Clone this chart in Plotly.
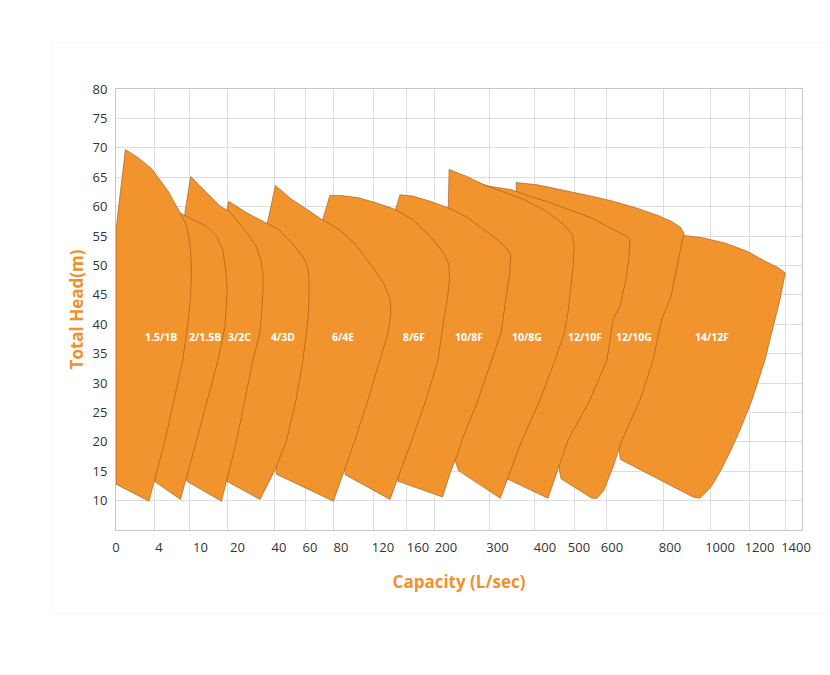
import numpy as np
import plotly.graph_objects as go

# ---------------- axis definitions ----------------
CAP_TICKS = [0, 4, 10, 20, 40, 60, 80, 120, 160, 200, 300, 400, 500, 600, 800, 1000, 1200, 1400]
HEAD_TICKS = [10, 15, 20, 25, 30, 35, 40, 45, 50, 55, 60, 65, 70, 75, 80]

# hand-drawn (non-uniform) capacity scale: where each labelled capacity sits along the axis
TICK_U = [0, 43, 84.5, 121.5, 163, 194, 225, 267, 302, 330, 381.5, 429, 463, 496, 554, 604, 643.5, 680]
GRID_U = [38, 73, 111, 158, 189, 217, 257, 290, 318, 373, 418, 458, 490, 547, 594, 633, 669]
X_SPAN = 686

# ---------------- pump envelopes (capacity L/s, head m) ----------------
PUMPS = ["1.5/1B", "2/1.5B", "3/2C", "4/3D", "6/4E", "8/6F", "10/8F", "10/8G", "12/10F", "12/10G", "14/12F"]

Q_1 = [0, 0, 0.87, 2.0, 3.3, 4.51, 5.4, 6.13, 7.09, 8.05, 8.57, 8.70, 8.57, 8.25, 7.76, 7.43, 6.17, 4.87, 3.07]
H_1 = [12.8, 56.1, 69.7, 68.4, 66.5, 64.0, 62.5, 60.9, 58.9, 56.6, 52.7, 48.8, 44.7, 40.8, 36.5, 33.9, 27.1, 20.3, 9.9]

Q_2 = [3.63, 6.75, 8.38, 11.76, 14.46, 16.03, 16.86, 17.22, 16.97, 16.62, 14.73, 11.76, 9.45, 7.11]
H_2 = [13.2, 59.1, 58.1, 56.6, 54.9, 52.7, 48.8, 45.9, 43.0, 39.6, 33.9, 27.1, 20.3, 10.2]

Q_3 = [8.02, 7.76, 7.73, 8.57, 11.78, 15.41, 17.84, 19.05, 24.72, 29.06, 31.18, 32.29, 32.29, 31.61, 30.75, 27.47, 23.61, 19.78, 15.68]
H_3 = [13.3, 56.1, 58.9, 65.1, 62.3, 60.0, 59.2, 58.3, 55.5, 53.2, 51.0, 48.7, 45.9, 41.9, 38.5, 33.9, 27.1, 20.3, 9.9]

Q_4 = [17.11, 16.89, 17.22, 17.59, 24.72, 33.35, 39.81, 48.39, 55.48, 58.45, 59.35, 59.35, 58.71, 55.48, 50.97, 44.97, 38.07, 30.84]
H_4 = [13.3, 56.1, 59.5, 60.9, 58.9, 57.3, 56.1, 53.8, 51.5, 49.8, 47.6, 44.2, 40.8, 33.9, 27.1, 20.3, 15.2, 10.2]

Q_5 = [38.70, 34.70, 34.41, 38.27, 48.39, 59.87, 67.68, 77.16, 92.86, 109.8, 120.6, 128.2, 129.1, 125.7, 117.1, 105.7, 93.33, 75.10]
H_5 = [14.5, 54.4, 57.3, 63.6, 61.2, 59.2, 57.8, 56.4, 53.8, 49.8, 47.0, 44.2, 41.9, 38.5, 33.9, 27.1, 20.3, 9.9]

Q_6 = [84.0, 69.68, 67.94, 72.84, 80.0, 97.05, 114.1, 134.3, 153.7, 177.7, 196.9, 205.8, 207.0, 202.5, 196.9, 188.6, 171.4, 153.1, 128.0]
H_6 = [14.4, 51.0, 57.6, 61.9, 61.9, 61.5, 60.6, 59.5, 57.8, 54.9, 52.1, 50.1, 47.6, 44.2, 40.8, 33.9, 27.1, 20.3, 10.2]

Q_7 = [137.1, 134.9, 134.3, 139.4, 153.7, 177.7, 204.3, 238.8, 273.8, 299.6, 318.5, 327.8, 325.9, 320.0, 313.7, 307.2, 288.7, 262.1, 231.1, 223.3, 207.8, 195.1]
H_7 = [13.3, 54.4, 59.5, 62.0, 61.8, 60.9, 59.8, 58.3, 56.1, 54.4, 53.0, 51.8, 48.7, 45.3, 41.9, 38.5, 33.9, 27.1, 20.3, 18.1, 14.6, 10.6]

Q_8 = [224.1, 205.8, 207.8, 204.3, 206.0, 238.8, 273.8, 309.1, 355.8, 404.1, 456.8, 480.3, 485.6, 482.9, 476.5, 467.4, 456.8, 429.4, 389.5, 351.6, 305.9]
H_8 = [15.1, 20.3, 51.0, 59.5, 66.3, 65.2, 63.7, 62.6, 61.2, 59.2, 56.9, 55.2, 53.2, 49.8, 46.4, 41.9, 38.5, 33.9, 27.1, 20.3, 10.4]

Q_9 = [320.0, 266.0, 262.1, 282.3, 327.8, 365.5, 404.1, 470.0, 536.4, 604.8, 651.0, 661.7, 658.6, 648.3, 627.6, 603.5, 584.9, 533.3, 467.7, 408.8]
H_9 = [13.7, 56.1, 64.1, 63.5, 62.9, 61.8, 60.9, 59.5, 58.1, 56.1, 54.9, 54.4, 51.5, 47.6, 43.0, 40.8, 33.9, 27.1, 20.3, 10.4]

Q_10 = [447.1, 420.6, 343.2, 339.0, 339.0, 384.2, 470.0, 536.4, 604.8, 681.7, 758.6, 805.6, 841.6, 856.0, 841.6, 824.0, 804.0, 771.4, 741.4, 696.6, 634.5, 603.5, 575.8, 554.6, 539.4]
H_10 = [13.7, 22.0, 56.1, 62.6, 64.1, 63.7, 62.6, 61.8, 60.9, 59.8, 58.5, 57.5, 56.5, 55.5, 52.7, 48.7, 44.7, 40.8, 33.9, 27.1, 20.3, 15.7, 11.8, 10.4, 10.4]

Q_11 = [629.0, 610.3, 724.1, 782.8, 856.0, 930.8, 1025.3, 1138.2, 1231.2, 1304.7, 1341.4, 1312.3, 1284.9, 1230.1, 1162.0, 1101.3, 1055.7, 1005.1, 964.0, 936.0, 920.0, 892.0]
H_11 = [17.0, 23.7, 37.4, 47.6, 55.1, 54.7, 53.8, 52.4, 50.7, 49.6, 48.7, 44.2, 40.8, 33.9, 27.1, 22.0, 18.6, 15.2, 12.3, 11.0, 10.4, 10.6]

LABEL_Q = [4.36, 11.3, 21.1, 42.6, 81.9, 155.4, 244.7, 361.5, 518.2, 675.9, 968.0]
LABEL_H = [37.9] * 11

ENVELOPES = [(Q_1, H_1), (Q_2, H_2), (Q_3, H_3), (Q_4, H_4), (Q_5, H_5), (Q_6, H_6),
             (Q_7, H_7), (Q_8, H_8), (Q_9, H_9), (Q_10, H_10), (Q_11, H_11)]

# ---------------- styles ----------------
FILL = "#F2942E"
EDGE = "#9a5418"
ORANGE = "#F0922B"
GRID = "#dedede"
FRAME = "#c6c6c6"
FONT = "Open Sans"


def to_axis(q):
    """Place capacities on the chart's non-uniform capacity scale."""
    return np.interp(q, CAP_TICKS, TICK_U)


fig = go.Figure()

# draw from the largest pump to the smallest so smaller envelopes sit on top
for name, (q, h) in reversed(list(zip(PUMPS, ENVELOPES))):
    qq = list(q) + [q[0]]
    hh = list(h) + [h[0]]
    fig.add_trace(go.Scatter(
        x=to_axis(qq), y=hh, mode="lines", fill="toself",
        fillcolor=FILL, line=dict(color=EDGE, width=0.6),
        name=name, hoverinfo="name", showlegend=False,
    ))

# helper trace so the labelled capacity axis is rendered
fig.add_trace(go.Scatter(x=[0], y=[5], xaxis="x2", mode="markers",
                         marker=dict(opacity=0), showlegend=False, hoverinfo="skip"))

for name, q, h in zip(PUMPS, LABEL_Q, LABEL_H):
    fig.add_annotation(x=float(to_axis(q)), y=h, text=f"<b>{name}</b>", showarrow=False,
                       font=dict(family=FONT, size=10.5, color="white"))

fig.update_layout(
    width=830, height=675,
    margin=dict(l=116, r=28, t=89, b=145),
    paper_bgcolor="white", plot_bgcolor="white",
    font=dict(family=FONT, size=13, color="#333333"),
    xaxis=dict(range=[0, X_SPAN], tickvals=GRID_U, showticklabels=False,
               showgrid=True, gridcolor=GRID, gridwidth=1, zeroline=False,
               showline=True, linecolor=FRAME, linewidth=1, mirror=True, ticks=""),
    xaxis2=dict(range=[0, X_SPAN], overlaying="x", anchor="y", side="bottom",
                tickvals=TICK_U, ticktext=[str(c) for c in CAP_TICKS],
                showgrid=False, zeroline=False, showline=False, ticks="",
                ticklabelstandoff=8,
                tickfont=dict(family=FONT, size=13, color="#333333"),
                title=dict(text="Capacity (L/sec)", standoff=21,
                           font=dict(family=FONT, size=17, color=ORANGE, weight="bold"))),
    yaxis=dict(range=[5, 80], tickvals=HEAD_TICKS, showgrid=True, gridcolor=GRID, gridwidth=1,
               zeroline=False, showline=True, linecolor=FRAME, linewidth=1, mirror=True,
               ticks="", ticklabelstandoff=5,
               tickfont=dict(family=FONT, size=13, color="#333333"),
               title=dict(text="Total Head(m)", standoff=4,
                          font=dict(family=FONT, size=17, color=ORANGE, weight="bold"))),
)

# faint card behind the chart
fig.add_shape(type="rect", xref="paper", yref="paper", layer="below",
              x0=-0.094, x1=1.06, y0=-0.19, y1=1.105,
              line=dict(color="rgba(0,0,0,0.025)", width=2), fillcolor="white")

fig.write_html("out.html")
